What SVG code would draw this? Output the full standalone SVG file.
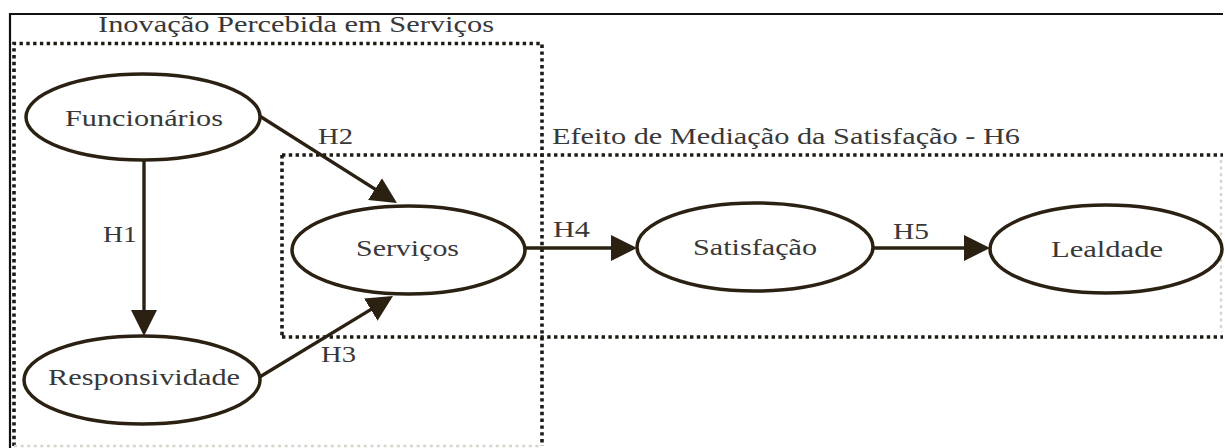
<svg xmlns="http://www.w3.org/2000/svg" width="1225" height="448" viewBox="0 0 1225 448">
<style>
.lbl{font-family:"Liberation Serif","Times New Roman",serif;font-size:24px;fill:#383838;}
.node{fill:#fff;stroke:#2b2112;stroke-width:3.5;}
.edge{stroke:#2b2112;stroke-width:3.4;fill:none;marker-end:url(#arr);}
.dot{stroke:#1e1a14;stroke-width:3.6;stroke-dasharray:3.4 3.4;fill:none;}
.faint{stroke:#d8d4cc;stroke-width:2.5;stroke-dasharray:3 3.6;fill:none;}
.frame{stroke:#111;stroke-width:2.2;fill:none;}
</style>
<defs>
<marker id="arr" markerUnits="userSpaceOnUse" viewBox="0 0 26 26" refX="22" refY="13" markerWidth="26" markerHeight="26" orient="auto">
<path d="M0,0 L26,13 L0,26 z" fill="#2b2112"/>
</marker>
</defs>
<rect width="1225" height="448" fill="#fff"/>
<g id="frame">
<path class="frame" d="M10,448 L10,14 L1223,14"/>
</g>
<g id="box-inovacao">
<path class="dot" d="M14,446 L14,43.5 L542,43.5 L542,446"/>
<path class="faint" d="M14,446 L542,446"/>
<text class="lbl" x="98" y="32" textLength="396" lengthAdjust="spacingAndGlyphs">Inovação Percebida em Serviços</text>
</g>
<g id="box-mediacao">
<path class="dot" d="M282,155 L1223,155 M282,337 L1223,337 M282,155 L282,337"/>
<path class="faint" d="M1221,160 L1221,332"/>
<text class="lbl" x="552" y="144" textLength="468" lengthAdjust="spacingAndGlyphs">Efeito de Mediação da Satisfação - H6</text>
</g>
<g id="connectors">
<line class="edge" x1="144" y1="160" x2="144" y2="332"/>
<line class="edge" x1="258" y1="115" x2="393.6" y2="200.9"/>
<line class="edge" x1="258" y1="378" x2="389.6" y2="298.1"/>
<line class="edge" x1="525" y1="248" x2="633" y2="248"/>
<line class="edge" x1="873" y1="248" x2="986" y2="248"/>
<text class="lbl" x="103" y="242" textLength="34" lengthAdjust="spacingAndGlyphs">H1</text>
<text class="lbl" x="318" y="144" textLength="35" lengthAdjust="spacingAndGlyphs">H2</text>
<text class="lbl" x="321" y="362" textLength="35" lengthAdjust="spacingAndGlyphs">H3</text>
<text class="lbl" x="553" y="237" textLength="37" lengthAdjust="spacingAndGlyphs">H4</text>
<text class="lbl" x="893" y="239" textLength="36" lengthAdjust="spacingAndGlyphs">H5</text>
</g>
<g id="funcionarios">
<ellipse class="node" cx="143" cy="117" rx="117" ry="43"/>
<text class="lbl" x="65" y="126" textLength="158" lengthAdjust="spacingAndGlyphs">Funcionários</text>
</g>
<g id="responsividade">
<ellipse class="node" cx="142" cy="380" rx="118" ry="44"/>
<text class="lbl" x="48" y="385" textLength="192" lengthAdjust="spacingAndGlyphs">Responsividade</text>
</g>
<g id="servicos">
<ellipse class="node" cx="408.5" cy="250" rx="116.5" ry="44"/>
<text class="lbl" x="356" y="256" textLength="103" lengthAdjust="spacingAndGlyphs">Serviços</text>
</g>
<g id="satisfacao">
<ellipse class="node" cx="755" cy="247" rx="118" ry="44"/>
<text class="lbl" x="693" y="255" textLength="124" lengthAdjust="spacingAndGlyphs">Satisfação</text>
</g>
<g id="lealdade">
<ellipse class="node" cx="1106" cy="249" rx="116" ry="44"/>
<text class="lbl" x="1051" y="257" textLength="112" lengthAdjust="spacingAndGlyphs">Lealdade</text>
</g>
</svg>
